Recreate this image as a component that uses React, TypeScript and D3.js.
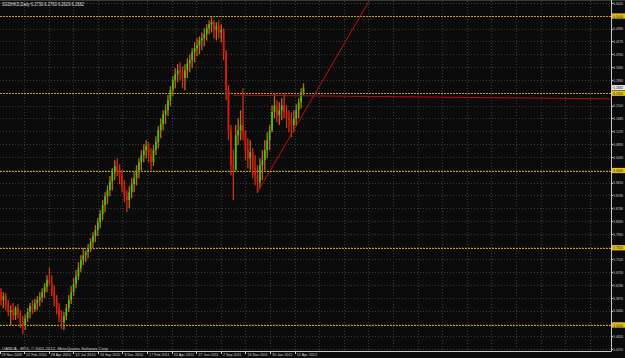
import React from "react";
import * as d3 from "d3";

const WIDTH = 625;
const HEIGHT = 358;

// Weekly OHLC (open of a week = close of previous week)
const firstOpen = 5.607;
const weeklyHigh = [
  5.619, 5.606, 5.603, 5.581, 5.564, 5.571, 5.561, 5.568, 5.548, 5.529,
  5.535, 5.555, 5.571, 5.581, 5.584, 5.593, 5.606, 5.619, 5.636, 5.661,
  5.687, 5.661, 5.629, 5.597, 5.571, 5.548, 5.542, 5.568, 5.597, 5.626,
  5.652, 5.678, 5.703, 5.726, 5.749, 5.742, 5.762, 5.781, 5.800, 5.823,
  5.846, 5.872, 5.904, 5.930, 5.952, 5.982, 6.007, 6.033, 6.040, 6.020,
  6.001, 5.969, 5.936, 5.949, 5.975, 5.995, 6.017, 6.040, 6.066, 6.085,
  6.098, 6.092, 6.072, 6.082, 6.111, 6.143, 6.169, 6.195, 6.214, 6.244,
  6.273, 6.305, 6.331, 6.344, 6.350, 6.337, 6.344, 6.363, 6.376, 6.396,
  6.415, 6.428, 6.434, 6.447, 6.460, 6.473, 6.486, 6.496, 6.486, 6.480,
  6.486, 6.473, 6.460, 6.389, 6.276, 6.147, 6.066, 6.147, 6.169, 6.195,
  6.266, 6.130, 6.104, 6.098, 6.072, 6.050, 6.017, 6.040, 6.066, 6.098,
  6.124, 6.147, 6.211, 6.250, 6.227, 6.221, 6.234, 6.250, 6.211, 6.195,
  6.188, 6.195, 6.214, 6.234, 6.266, 6.282,
];
const weeklyLow = [
  5.564, 5.555, 5.548, 5.529, 5.500, 5.516, 5.516, 5.522, 5.490, 5.471,
  5.484, 5.509, 5.522, 5.535, 5.542, 5.548, 5.561, 5.574, 5.587, 5.606,
  5.629, 5.593, 5.561, 5.535, 5.509, 5.487, 5.484, 5.516, 5.542, 5.568,
  5.593, 5.619, 5.645, 5.671, 5.694, 5.703, 5.716, 5.736, 5.749, 5.768,
  5.788, 5.813, 5.839, 5.865, 5.891, 5.917, 5.936, 5.969, 5.982, 5.956,
  5.930, 5.898, 5.865, 5.878, 5.910, 5.930, 5.952, 5.975, 6.001, 6.027,
  6.040, 6.027, 6.001, 6.014, 6.050, 6.072, 6.104, 6.130, 6.150, 6.176,
  6.208, 6.240, 6.266, 6.286, 6.292, 6.266, 6.260, 6.299, 6.318, 6.331,
  6.350, 6.370, 6.376, 6.389, 6.402, 6.421, 6.441, 6.447, 6.428, 6.421,
  6.428, 6.415, 6.357, 6.227, 6.098, 5.985, 5.904, 6.001, 6.082, 6.098,
  6.098, 6.033, 6.007, 6.001, 5.975, 5.952, 5.927, 5.943, 5.969, 6.001,
  6.040, 6.066, 6.124, 6.169, 6.156, 6.147, 6.163, 6.169, 6.137, 6.124,
  6.108, 6.124, 6.147, 6.169, 6.201, 6.244,
];
const weeklyClose = [
  5.581, 5.593, 5.564, 5.542, 5.548, 5.532, 5.555, 5.535, 5.509, 5.500,
  5.522, 5.542, 5.561, 5.551, 5.571, 5.581, 5.590, 5.606, 5.623, 5.645,
  5.636, 5.606, 5.581, 5.555, 5.522, 5.509, 5.529, 5.555, 5.581, 5.606,
  5.632, 5.658, 5.684, 5.710, 5.726, 5.736, 5.746, 5.768, 5.788, 5.807,
  5.833, 5.859, 5.888, 5.917, 5.936, 5.965, 5.995, 6.014, 6.001, 5.982,
  5.949, 5.917, 5.904, 5.930, 5.956, 5.975, 6.001, 6.027, 6.050, 6.066,
  6.079, 6.050, 6.027, 6.066, 6.092, 6.130, 6.150, 6.182, 6.195, 6.227,
  6.260, 6.292, 6.312, 6.324, 6.318, 6.299, 6.324, 6.347, 6.357, 6.383,
  6.396, 6.405, 6.421, 6.428, 6.441, 6.460, 6.473, 6.480, 6.454, 6.467,
  6.447, 6.454, 6.383, 6.260, 6.130, 6.017, 6.001, 6.114, 6.130, 6.147,
  6.124, 6.066, 6.040, 6.059, 6.007, 5.985, 5.962, 6.017, 6.033, 6.066,
  6.098, 6.130, 6.189, 6.211, 6.179, 6.195, 6.211, 6.189, 6.169, 6.163,
  6.147, 6.169, 6.195, 6.221, 6.253, 6.268,
];

const dateLabels = [
  "29 Nov 2009", "12 Feb 2010", "28 Apr 2010", "12 Jul 2010", "24 Sep 2010",
  "8 Dec 2010", "17 Feb 2011", "22 Apr 2011", "27 Jun 2011", "2 Sep 2011",
  "16 Nov 2011", "30 Jan 2012", "12 Apr 2012",
];
const gridCount = 25; // vertical grid lines incl. future area
const weeksPerLabel = 10.165;

const priceTicks = [
  6.542, 6.5005, 6.459, 6.4175, 6.376, 6.3345, 6.293, 6.2515, 6.21, 6.1685,
  6.127, 6.0855, 6.044, 6.0025, 5.961, 5.9195, 5.878, 5.8365, 5.795, 5.7535,
  5.712, 5.6705, 5.629, 5.5875, 5.546, 5.5045, 5.463, 5.4215,
];
const levelLines = [6.5, 6.25, 6.0, 5.75, 5.5];
const currentPrice = 6.2682;
const titleText = "SGDHKD,Daily  6.2730 6.2763 6.2629 6.2682";
const copyrightText = "OANDA - MT4, \u00a9 2001-2012, MetaQuotes Software Corp.";

// trend lines: [week index, price]
const trendRise: [number, number][] = [[105.8, 5.927], [131.8, 6.276]];
const trendFlat: [number, number][] = [[95.9, 6.244], [250, 6.232]];

const PLOT_R = 611;
const PLOT_B = 351;
const FONT = "'Liberation Sans', Arial, sans-serif";

export default function App() {
  const x = d3.scaleLinear().domain([0, 250]).range([1, 606]);
  const y = d3.scaleLinear().domain([5.5, 6.5]).range([325, 16]);

  const bars = weeklyClose.map((c, i) => {
    const o = i === 0 ? firstOpen : weeklyClose[i - 1];
    return { i, o, h: weeklyHigh[i], l: weeklyLow[i], c };
  });

  const extend = (pts: [number, number][]) => {
    const [[w1, p1], [w2, p2]] = pts;
    const slope = (p2 - p1) / (w2 - w1);
    const wEnd = 260;
    return { x1: x(w1), y1: y(p1), x2: x(wEnd), y2: y(p1 + slope * (wEnd - w1)) };
  };
  const tr = extend(trendRise);
  const tf = extend(trendFlat);

  const gridXs = d3.range(gridCount).map((k) => x(k * weeksPerLabel) - 1.5);

  const priceLabel = (p: number, fill: string, key: string) => (
    <g key={key} transform={`translate(${PLOT_R + 2.3},${y(p) + 1.7}) scale(0.72,1)`}>
      <text x={0} y={0} fontFamily={FONT} fontSize={4.4} fill={fill}>
        {p.toFixed(4)}
      </text>
    </g>
  );

  return (
    <svg
      width={WIDTH}
      height={HEIGHT}
      style={{ position: "fixed", left: 0, top: 0, display: "block" }}
    >
      <defs>
        <clipPath id="plot">
          <rect x={0} y={1} width={PLOT_R} height={PLOT_B - 1} />
        </clipPath>
      </defs>
      <rect width={WIDTH} height={HEIGHT} fill="#0b0b0b" />
      <line x1={0} x2={WIDTH} y1={0.5} y2={0.5} stroke="#3a3a3a" />

      {/* grid */}
      <g stroke="#3b3b3b" strokeWidth={1} strokeDasharray="1 2" shapeRendering="crispEdges">
        {gridXs.filter((gx) => gx > 2 && gx < PLOT_R).map((gx, k) => (
          <line key={"gx" + k} x1={Math.round(gx) + 0.5} x2={Math.round(gx) + 0.5} y1={1} y2={PLOT_B} />
        ))}
        {priceTicks.map((p, k) => (
          <line key={"gy" + k} x1={0} x2={PLOT_R} y1={Math.round(y(p)) + 0.5} y2={Math.round(y(p)) + 0.5} />
        ))}
      </g>

      {/* level lines */}
      <g stroke="#c9a21a" strokeWidth={1} strokeDasharray="1.5 1.5" shapeRendering="crispEdges">
        {levelLines.map((p) => (
          <line key={p} x1={0} x2={PLOT_R} y1={Math.round(y(p)) + 0.5} y2={Math.round(y(p)) + 0.5} />
        ))}
      </g>

      <g clipPath="url(#plot)">
        {/* bars */}
        {bars.map((b) => {
          const up = b.c >= b.o;
          const cx = x(b.i);
          return (
            <g key={b.i}>
              <line
                x1={cx} x2={cx} y1={y(b.h)} y2={y(b.l)}
                stroke={up ? "#c8641a" : "#c83414"} strokeWidth={1.3}
              />
              <line
                x1={cx} x2={cx} y1={y(Math.max(b.o, b.c))} y2={y(Math.min(b.o, b.c))}
                stroke={up ? "#40cc00" : "#e01a08"} strokeWidth={1.7}
              />
            </g>
          );
        })}
        {/* trend lines */}
        <line {...tr} stroke="#c01010" strokeWidth={1} />
        <line {...tf} stroke="#b01010" strokeWidth={1} />
      </g>

      {/* axes */}
      <line x1={PLOT_R + 0.5} x2={PLOT_R + 0.5} y1={0} y2={PLOT_B + 0.5} stroke="#c8c8c8" />
      <line x1={0} x2={PLOT_R + 0.5} y1={PLOT_B + 0.5} y2={PLOT_B + 0.5} stroke="#c8c8c8" />

      {/* price labels */}
      <g>
        {priceTicks.map((p, k) => (
          <line key={"t" + k} x1={PLOT_R} x2={PLOT_R + 2} y1={Math.round(y(p)) + 0.5} y2={Math.round(y(p)) + 0.5} stroke="#c8c8c8" />
        ))}
        {priceTicks.map((p, k) => priceLabel(p, "#d0d0d0", "pl" + k))}
      </g>
      {levelLines.map((p) => (
        <g key={"lv" + p}>
          <rect x={PLOT_R + 1} y={y(p) - 2.6} width={WIDTH - PLOT_R} height={5.2} fill="#e8c21c" />
          {priceLabel(p, "#1a1a1a", "lvt" + p)}
        </g>
      ))}
      <rect x={PLOT_R + 1} y={y(currentPrice) - 2.6} width={WIDTH - PLOT_R} height={5.2} fill="#e8e8e8" />
      {priceLabel(currentPrice, "#111", "cur")}

      {/* date labels */}
      <g fontFamily={FONT} fontSize={4.4} fill="#d0d0d0">
        {dateLabels.map((d, k) => (
          <g key={d}>
            <line x1={Math.round(gridXs[k]) + 0.5} x2={Math.round(gridXs[k]) + 0.5} y1={PLOT_B} y2={PLOT_B + 3} stroke="#c8c8c8" />
            <text
              x={gridXs[k] + 2}
              y={356.3}
              textLength={d.length * 1.85}
              lengthAdjust="spacingAndGlyphs"
            >
              {d}
            </text>
          </g>
        ))}
      </g>

      <text x={2} y={6.3} fontFamily={FONT} fontSize={4.6} fill="#e0e0e0" textLength={82} lengthAdjust="spacingAndGlyphs">
        {titleText}
      </text>
      <text x={2} y={349.6} fontFamily={FONT} fontSize={4.4} fill="#d0d0d0" textLength={107} lengthAdjust="spacingAndGlyphs">
        {copyrightText}
      </text>
    </svg>
  );
}
